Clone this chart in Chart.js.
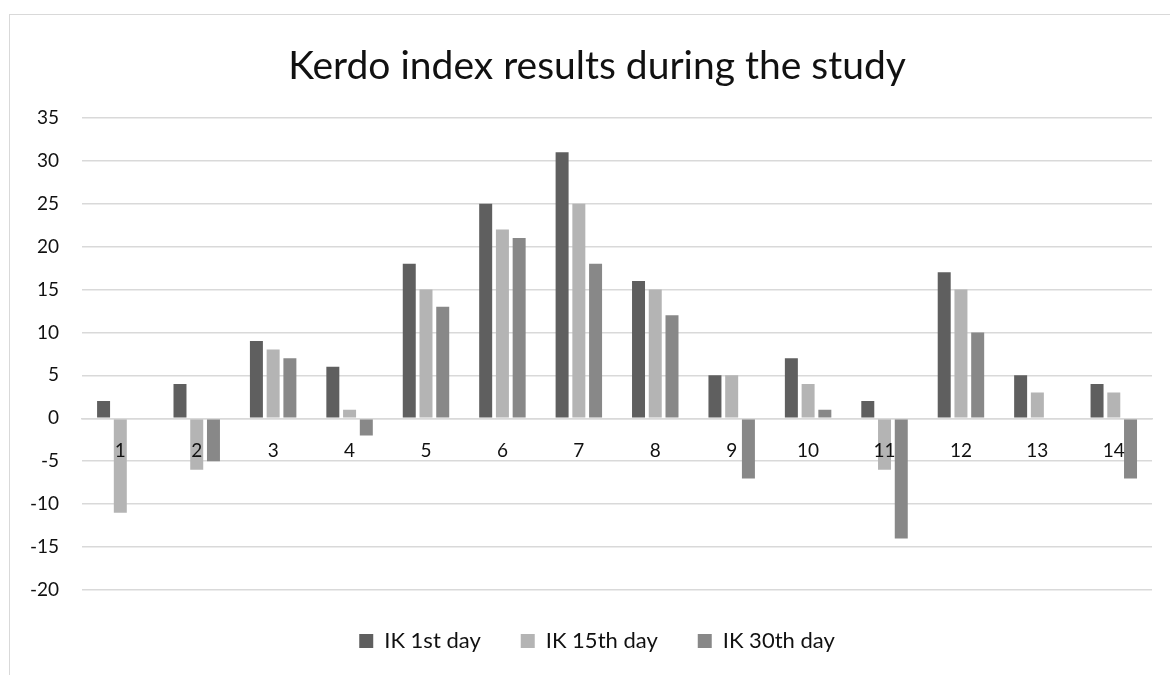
<!DOCTYPE html>
<html>
<head>
<meta charset="utf-8">
<script src="https://cdn.jsdelivr.net/npm/chart.js@4.4.0/dist/chart.umd.min.js"></script>
<style>
  html, body { margin: 0; padding: 0; background: #fff; overflow: hidden; }
  #frame {
    position: absolute; left: 9px; top: 14px; width: 1200px; height: 700px;
    border-left: 1.5px solid #d9d9d9; border-top: 1.5px solid #d9d9d9;
  }
  /* canvas runs a bit past the right edge, like the chart frame does */
  #wrap { position: absolute; left: 0; top: 0; width: 1187px; height: 675px; }
</style>
</head>
<body>
<div id="frame"></div>
<div id="wrap"><canvas id="kerdoChart"></canvas></div>
<script>
// Chart data
const categories = ["1","2","3","4","5","6","7","8","9","10","11","12","13","14"];
const ik1stDay  = [2, 4, 9, 6, 18, 25, 31, 16, 5, 7, 2, 17, 5, 4];
const ik15thDay = [-11, -6, 8, 1, 15, 22, 25, 15, 5, 4, -6, 15, 3, 3];
const ik30thDay = [0, -5, 7, -2, 13, 21, 18, 12, -7, 1, -14, 10, 0, -7];
const yTicks = { min: -20, max: 35, step: 5 };

const fontFamily = "Lato, 'Open Sans', sans-serif";

new Chart(document.getElementById("kerdoChart"), {
  type: "bar",
  data: {
    labels: categories,
    datasets: [
      { label: "IK 1st day",  data: ik1stDay,  backgroundColor: "#5f5f5f" },
      { label: "IK 15th day", data: ik15thDay, backgroundColor: "#b4b4b4" },
      { label: "IK 30th day", data: ik30thDay, backgroundColor: "#888888" }
    ]
  },
  options: {
    responsive: true,
    maintainAspectRatio: false,
    animation: false,
    layout: { padding: { left: 7, right: 0, top: 0, bottom: 13 } },
    datasets: {
      bar: {
        categoryPercentage: 0.657,
        barPercentage: 0.776,
        borderWidth: 0
      }
    },
    plugins: {
      title: {
        display: true,
        text: "Kerdo index results during the study",
        color: "#111",
        font: { family: fontFamily, size: 39, weight: "normal", lineHeight: 1.2 },
        padding: { top: 43, bottom: 28 }
      },
      legend: {
        position: "bottom",
        labels: {
          color: "#111",
          font: { family: fontFamily, size: 22 },
          boxWidth: 14,
          boxHeight: 14,
          padding: 40
        }
      },
      tooltip: { enabled: false }
    },
    scales: {
      x: {
        position: { y: 0 },
        grid: { display: false, drawTicks: false },
        border: { color: "#d9d9d9", width: 1.5, z: 1 },
        ticks: {
          z: 1,
          color: "#111",
          font: { family: fontFamily, size: 19 },
          padding: 21,
          maxRotation: 0
        }
      },
      y: {
        min: yTicks.min,
        max: yTicks.max,
        grid: { color: "#d9d9d9", lineWidth: 1.5, drawTicks: false },
        border: { display: false },
        ticks: {
          stepSize: yTicks.step,
          color: "#111",
          font: { family: fontFamily, size: 19 },
          padding: 23
        }
      },
      // empty right margin so title and legend sit centred like the original
      yRight: {
        position: "right",
        grid: { display: false },
        border: { display: false },
        ticks: { display: false },
        afterFit: (scale) => { scale.width = 35; }
      }
    }
  }
});
</script>
</body>
</html>
